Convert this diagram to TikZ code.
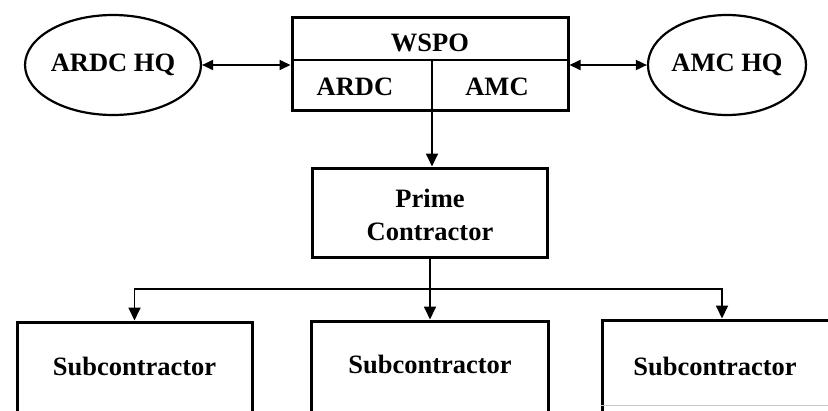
\documentclass[tikz,border=0pt]{standalone}
\usepackage{fontspec}
\setmainfont{Liberation Serif}
\usetikzlibrary{shapes.geometric,arrows.meta}
\begin{document}
\begin{tikzpicture}[x=1pt,y=-1pt,
  every node/.style={font=\bfseries\fontsize{26.5}{33}\selectfont, inner sep=0pt},
  hq/.style={draw, ellipse, line width=2.2pt},
  box/.style={draw, rectangle, line width=3pt},
  divider/.style={line width=2.2pt},
  conn/.style={line width=1.8pt, -{Triangle[length=13pt,width=12pt]}},
  dconn/.style={line width=1.8pt, {Triangle[length=11pt,width=10pt]}-{Triangle[length=11pt,width=10pt]}}
]
\useasboundingbox (0,0) rectangle (828,410);
\clip (0,0) rectangle (828,410);

% headquarters
\node[hq, minimum width=174pt, minimum height=100pt] (ardchq) at (113,65) {ARDC HQ};
\node[hq, minimum width=158pt, minimum height=100pt] (amchq) at (727,65) {AMC HQ};

% WSPO box
\node[box, minimum width=276pt, minimum height=93pt] (wspo) at (430,63.5) {};
\coordinate (split) at (432,60);
\draw[divider] (wspo.west |- split) -- (wspo.east |- split);
\draw[divider] (split) -- (split |- wspo.south);
\node (wspot) at (430,42.5) {WSPO};
\node (ardc) at (355,87) {ARDC};
\node (amc) at (497,87) {AMC};

% links to HQs
\draw[dconn] (ardchq.east) -- (ardchq.east -| wspo.west);
\draw[dconn] (wspo.east |- amchq.west) -- (amchq.west);

% prime contractor
\node[box, minimum width=235pt, minimum height=89pt] (prime) at (430,212.5) {};
\node[align=center] (primet) at (430,215) {Prime\\Contractor};
\draw[conn] (split |- wspo.south) -- (split |- prime.north);

% subcontractors
\node[box, minimum width=235pt, minimum height=100pt] (s1) at (134.5,372) {};
\node[box, minimum width=237pt, minimum height=100pt] (s2) at (430,371) {};
\node[box, minimum width=240pt, minimum height=100pt] (s3) at (722,370) {};
\draw[gray!45, line width=1pt] (s3.west |- 0,405) -- (828,405);
\node (t1) at (134.5,366) {Subcontractor};
\node (t2) at (430,364) {Subcontractor};
\node (t3) at (715,366) {Subcontractor};

\coordinate (branch) at (430,289);
\draw[conn] (prime.south) -- (s2.north);
\draw[conn] (branch) -| (s1.north);
\draw[conn] (branch) -| (s3.north);
\end{tikzpicture}
\end{document}
